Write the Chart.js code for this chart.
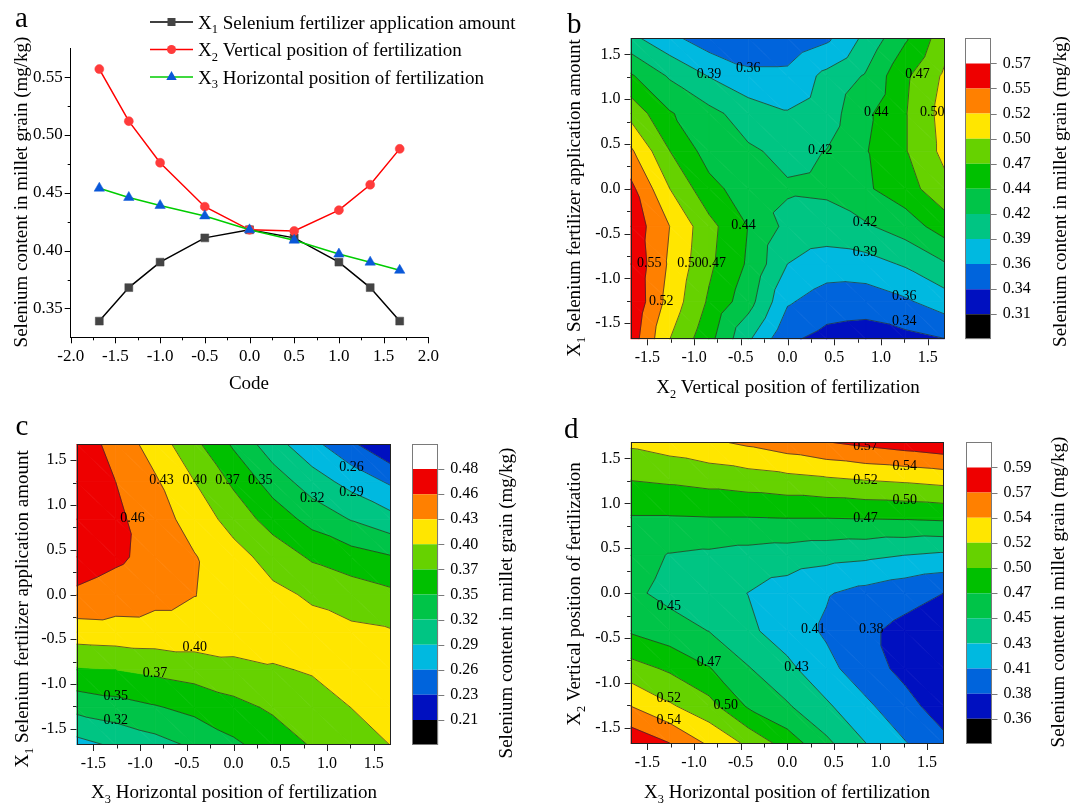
<!DOCTYPE html>
<html>
<head>
<meta charset="utf-8">
<script src="https://cdn.jsdelivr.net/npm/chart.js@4.4.1/dist/chart.umd.min.js"></script>
<style>
  html, body { margin: 0; padding: 0; background: #fff; }
  #page { position: relative; width: 1073px; height: 803px; overflow: hidden; background: #fff; }
  canvas { position: absolute; }
</style>
</head>
<body>
<div id="page">
  <canvas id="chartA" width="540" height="400" style="left:0px;top:0px"></canvas>
  <canvas id="chartB" width="415" height="400" style="left:540px;top:0px"></canvas>
  <canvas id="barB" width="118" height="400" style="left:955px;top:0px"></canvas>
  <canvas id="chartC" width="405" height="403" style="left:0px;top:400px"></canvas>
  <canvas id="barC" width="120" height="403" style="left:405px;top:400px"></canvas>
  <canvas id="chartD" width="415" height="403" style="left:540px;top:400px"></canvas>
  <canvas id="barD" width="118" height="403" style="left:955px;top:400px"></canvas>
</div>
<script>
// ---- panel a: single factor effects ----
const codeA = [-1.68, -1.35, -1, -0.5, 0, 0.5, 1, 1.35, 1.68];
const seX1 = [0.339, 0.368, 0.390, 0.411, 0.418, 0.411, 0.390, 0.368, 0.339];
const seX2 = [0.557, 0.512, 0.476, 0.438, 0.418, 0.417, 0.435, 0.457, 0.488];
const seX3 = [0.454, 0.446, 0.439, 0.430, 0.418, 0.409, 0.397, 0.390, 0.383];
const ticksAx = [-2, -1.5, -1, -0.5, 0, 0.5, 1, 1.5, 2];
const minorAx = [-1.75, -1.25, -0.75, -0.25, 0.25, 0.75, 1.25, 1.75];
const ticksAy = [0.35, 0.40, 0.45, 0.50, 0.55];
const minorAy = [0.375, 0.425, 0.475, 0.525];

// ---- contour panels: grid codes ----
const gridCodes = [-1.68, -1.26, -0.84, -0.42, 0, 0.42, 0.84, 1.26, 1.68];
const gridRowCodes = [1.68, 1.26, 0.84, 0.42, 0, -0.42, -0.84, -1.26, -1.68];
const contourTicks = [-1.5, -1, -0.5, 0, 0.5, 1, 1.5];
const contourMinor = [-1.25, -0.75, -0.25, 0.25, 0.75, 1.25];

// b: X2 (columns) vs X1 (rows, top = 1.68)
const surfB = [
  [0.398, 0.372, 0.350, 0.343, 0.345, 0.360, 0.398, 0.440, 0.485],
  [0.447, 0.414, 0.390, 0.372, 0.372, 0.398, 0.420, 0.465, 0.500],
  [0.488, 0.446, 0.425, 0.405, 0.393, 0.405, 0.438, 0.468, 0.506],
  [0.527, 0.470, 0.432, 0.421, 0.411, 0.418, 0.442, 0.468, 0.503],
  [0.556, 0.496, 0.452, 0.430, 0.420, 0.422, 0.440, 0.458, 0.488],
  [0.566, 0.522, 0.478, 0.443, 0.410, 0.406, 0.414, 0.430, 0.456],
  [0.570, 0.518, 0.475, 0.440, 0.391, 0.378, 0.381, 0.394, 0.415],
  [0.571, 0.512, 0.466, 0.428, 0.368, 0.352, 0.350, 0.361, 0.378],
  [0.563, 0.496, 0.452, 0.395, 0.343, 0.330, 0.326, 0.331, 0.338]
];
const levelsB = [0.3125, 0.3387, 0.3649, 0.3911, 0.4173, 0.4435, 0.4697, 0.4959, 0.5221, 0.5483, 0.5745];
const levelLabelsB = ['0.31', '0.34', '0.36', '0.39', '0.42', '0.44', '0.47', '0.50', '0.52', '0.55', '0.57'];
const marksB = [
  {x: -0.84, y: 1.28, t: '0.39'}, {x: -0.42, y: 1.345, t: '0.36'}, {x: 1.39, y: 1.28, t: '0.47'},
  {x: 0.95, y: 0.85, t: '0.44'}, {x: 1.55, y: 0.85, t: '0.50'}, {x: 0.35, y: 0.43, t: '0.42'},
  {x: -0.47, y: -0.41, t: '0.44'}, {x: 0.83, y: -0.37, t: '0.42'}, {x: 0.83, y: -0.71, t: '0.39'},
  {x: -1.48, y: -0.83, t: '0.55'}, {x: -1.05, y: -0.83, t: '0.50'}, {x: -0.79, y: -0.83, t: '0.47'},
  {x: -1.35, y: -1.26, t: '0.52'}, {x: 1.25, y: -1.2, t: '0.36'}, {x: 1.25, y: -1.48, t: '0.34'}
];

// c: X3 (columns) vs X1 (rows)
const surfC = [
  [0.473, 0.446, 0.416, 0.380, 0.341, 0.301, 0.270, 0.239, 0.208],
  [0.478, 0.456, 0.432, 0.401, 0.368, 0.333, 0.303, 0.280, 0.258],
  [0.478, 0.462, 0.441, 0.417, 0.390, 0.361, 0.336, 0.316, 0.299],
  [0.470, 0.461, 0.447, 0.430, 0.411, 0.390, 0.369, 0.357, 0.347],
  [0.452, 0.444, 0.436, 0.429, 0.418, 0.407, 0.397, 0.388, 0.379],
  [0.415, 0.417, 0.418, 0.418, 0.417, 0.414, 0.410, 0.406, 0.403],
  [0.370, 0.373, 0.379, 0.385, 0.392, 0.398, 0.403, 0.407, 0.410],
  [0.326, 0.334, 0.343, 0.353, 0.365, 0.377, 0.389, 0.401, 0.408],
  [0.280, 0.294, 0.307, 0.322, 0.340, 0.358, 0.375, 0.388, 0.401]
];
const levelsC = [0.2068, 0.2345, 0.2622, 0.2899, 0.3176, 0.3453, 0.3730, 0.4007, 0.4284, 0.4561, 0.4838];
const levelLabelsC = ['0.21', '0.23', '0.26', '0.29', '0.32', '0.35', '0.37', '0.40', '0.43', '0.46', '0.48'];
const marksC = [
  {x: -0.77, y: 1.275, t: '0.43'}, {x: -0.415, y: 1.275, t: '0.40'}, {x: -0.065, y: 1.275, t: '0.37'},
  {x: 0.285, y: 1.275, t: '0.35'}, {x: 0.84, y: 1.07, t: '0.32'}, {x: 1.26, y: 1.145, t: '0.29'},
  {x: 1.26, y: 1.42, t: '0.26'}, {x: -1.08, y: 0.85, t: '0.46'}, {x: -0.415, y: -0.585, t: '0.40'},
  {x: -0.84, y: -0.875, t: '0.37'}, {x: -1.26, y: -1.135, t: '0.35'}, {x: -1.26, y: -1.41, t: '0.32'}
];

// d: X3 (columns) vs X2 (rows)
const surfD = [
  [0.525, 0.532, 0.540, 0.548, 0.557, 0.566, 0.573, 0.579, 0.585],
  [0.498, 0.501, 0.505, 0.509, 0.513, 0.517, 0.521, 0.524, 0.528],
  [0.473, 0.473, 0.474, 0.474, 0.475, 0.475, 0.476, 0.477, 0.479],
  [0.462, 0.450, 0.447, 0.443, 0.440, 0.436, 0.433, 0.428, 0.424],
  [0.456, 0.445, 0.437, 0.428, 0.418, 0.407, 0.398, 0.390, 0.382],
  [0.472, 0.461, 0.451, 0.433, 0.417, 0.402, 0.386, 0.376, 0.368],
  [0.507, 0.494, 0.476, 0.453, 0.434, 0.412, 0.392, 0.376, 0.364],
  [0.544, 0.524, 0.506, 0.472, 0.454, 0.432, 0.410, 0.390, 0.371],
  [0.586, 0.568, 0.541, 0.517, 0.488, 0.457, 0.429, 0.407, 0.388]
];
const levelsD = [0.3590, 0.3821, 0.4052, 0.4283, 0.4514, 0.4745, 0.4976, 0.5207, 0.5438, 0.5669, 0.5900];
const levelLabelsD = ['0.36', '0.38', '0.41', '0.43', '0.45', '0.47', '0.50', '0.52', '0.54', '0.57', '0.59'];
const marksD = [
  {x: 0.84, y: 1.63, t: '0.57'}, {x: 1.26, y: 1.415, t: '0.54'}, {x: 0.84, y: 1.26, t: '0.52'},
  {x: 1.26, y: 1.03, t: '0.50'}, {x: 0.84, y: 0.835, t: '0.47'}, {x: -1.27, y: -0.15, t: '0.45'},
  {x: 0.28, y: -0.4, t: '0.41'}, {x: 0.9, y: -0.4, t: '0.38'}, {x: -0.84, y: -0.775, t: '0.47'},
  {x: 0.1, y: -0.825, t: '0.43'}, {x: -1.27, y: -1.17, t: '0.52'}, {x: -0.66, y: -1.245, t: '0.50'},
  {x: -1.27, y: -1.42, t: '0.54'}
];

// colour bands, lowest first
const bandColors = ['#000000', '#0010c0', '#0064dc', '#00b9e0', '#00c583', '#00c448', '#00c000',
                    '#66d200', '#ffe600', '#ff8000', '#ee0000', '#ffffff'];

const FONT = "'Liberation Serif', 'Times New Roman', serif";
Chart.defaults.font.family = FONT;
Chart.defaults.color = '#000';

const titleSe = [{t: 'Selenium content in millet grain (mg/kg)'}];
const titleX1 = [{t: 'X'}, {t: '1', sub: true}, {t: ' Selenium fertilizer application amount'}];
const titleX2 = [{t: 'X'}, {t: '2', sub: true}, {t: ' Vertical position of fertilization'}];
const titleX3 = [{t: 'X'}, {t: '3', sub: true}, {t: ' Horizontal position of fertilization'}];

// text with subscripts, centred on (x, y)
function richText(ctx, parts, x, y, size, rot) {
    ctx.save();
    ctx.translate(x, y);
    ctx.rotate(rot || 0);
    ctx.fillStyle = '#000';
    ctx.textAlign = 'left';
    ctx.textBaseline = 'alphabetic';
    let w = 0;
    parts.forEach(p => {
        ctx.font = (p.sub ? size * 0.65 : size) + 'px ' + FONT;
        w += ctx.measureText(p.t).width;
    });
    let cx = -w / 2;
    parts.forEach(p => {
        ctx.font = (p.sub ? size * 0.65 : size) + 'px ' + FONT;
        ctx.fillText(p.t, cx, size * 0.33 + (p.sub ? size * 0.25 : 0));
        cx += ctx.measureText(p.t).width;
    });
    ctx.restore();
}

function letter(ctx, t, x, y) {
    ctx.save();
    ctx.font = '29px ' + FONT;
    ctx.fillStyle = '#000';
    ctx.textBaseline = 'alphabetic';
    ctx.fillText(t, x, y);
    ctx.restore();
}

function tickMarks(ctx, chart, xs, ys, len) {
    const a = chart.chartArea;
    ctx.beginPath();
    xs.forEach(v => {
        const px = Math.round(chart.scales.x.getPixelForValue(v)) + 0.5;
        ctx.moveTo(px, a.bottom);
        ctx.lineTo(px, a.bottom + len);
    });
    ys.forEach(v => {
        const py = Math.round(chart.scales.y.getPixelForValue(v)) + 0.5;
        ctx.moveTo(a.left, py);
        ctx.lineTo(a.left - len, py);
    });
    ctx.stroke();
}

// ---------- panel a ----------
const seriesA = [
    {name: '1', text: ' Selenium fertilizer application amount', values: seX1, line: '#000000', fill: '#444444', style: 'rect', r: 5.6},
    {name: '2', text: ' Vertical position of fertilization', values: seX2, line: '#ff0000', fill: '#ff3b3b', style: 'circle', r: 4.5},
    {name: '3', text: ' Horizontal position of fertilization', values: seX3, line: '#00cc00', fill: '#0a58d8', style: 'triangle', r: 6}
];

function marker(ctx, style, x, y, color) {
    ctx.fillStyle = color;
    ctx.beginPath();
    if (style === 'rect') ctx.rect(x - 4, y - 4, 8, 8);
    else if (style === 'circle') ctx.arc(x, y, 4.5, 0, Math.PI * 2);
    else { ctx.moveTo(x, y - 6); ctx.lineTo(x + 5.2, y + 3); ctx.lineTo(x - 5.2, y + 3); ctx.closePath(); }
    ctx.fill();
}

const panelAPlugin = {
    id: 'panelA',
    afterDraw(chart) {
        const ctx = chart.ctx;
        ctx.save();
        ctx.strokeStyle = '#000';
        ctx.lineWidth = 1;
        tickMarks(ctx, chart, ticksAx, ticksAy, 6);
        tickMarks(ctx, chart, minorAx, minorAy, 3);
        // legend
        seriesA.forEach((s, i) => {
            const y = 22 + i * 27.5;
            ctx.strokeStyle = s.line;
            ctx.lineWidth = 1.5;
            ctx.beginPath();
            ctx.moveTo(150, y);
            ctx.lineTo(193, y);
            ctx.stroke();
            marker(ctx, s.style, 171.5, y, s.fill);
            ctx.fillStyle = '#000';
            ctx.font = '19px ' + FONT;
            ctx.fillText('X', 198, y + 6.5);
            const wx = ctx.measureText('X').width;
            ctx.font = '12.5px ' + FONT;
            ctx.fillText(s.name, 198 + wx, y + 11);
            const w1 = ctx.measureText(s.name).width;
            ctx.font = '19px ' + FONT;
            ctx.fillText(s.text, 198 + wx + w1, y + 6.5);
        });
        richText(ctx, titleSe, 20.5, 192, 19, -Math.PI / 2);
        richText(ctx, [{t: 'Code'}], 249, 383, 19, 0);
        letter(ctx, 'a', 15, 27);
        ctx.restore();
    }
};

new Chart(document.getElementById('chartA'), {
    type: 'line',
    data: {
        datasets: seriesA.map((s, i) => ({
            label: 'X' + s.name,
            data: codeA.map((c, k) => ({x: c, y: s.values[k]})),
            borderColor: s.line,
            borderWidth: 1.5,
            pointStyle: s.style,
            pointRadius: s.r,
            pointBackgroundColor: s.fill,
            pointBorderColor: s.fill,
            pointBorderWidth: 0.5,
            tension: 0,
            order: 2 - i
        }))
    },
    options: {
        responsive: false,
        animation: false,
        layout: { padding: { left: 0, top: 48.3, right: 111.7, bottom: 0 } },
        plugins: { legend: { display: false }, tooltip: { enabled: false } },
        scales: {
            x: {
                type: 'linear', min: -2, max: 2,
                afterBuildTicks: s => { s.ticks = ticksAx.map(v => ({value: v})); },
                afterFit: s => { s.height = 62.7; },
                ticks: { callback: v => v.toFixed(1), font: { size: 17 }, padding: 9, maxRotation: 0, autoSkip: false },
                grid: { display: false, drawTicks: false },
                border: { display: true, color: '#000', width: 1 }
            },
            y: {
                type: 'linear', min: 0.325, max: 0.575,
                afterBuildTicks: s => { s.ticks = ticksAy.map(v => ({value: v})); },
                afterFit: s => { s.width = 70.7; },
                ticks: { callback: v => v.toFixed(2), font: { size: 17 }, padding: 8 },
                grid: { display: false, drawTicks: false },
                border: { display: true, color: '#000', width: 1 }
            }
        }
    },
    plugins: [panelAPlugin]
});

// ---------- contour panels ----------
function clipPoly(poly, lim, dir) {
    if (lim === null) return poly;
    const out = [];
    for (let n = 0; n < poly.length; n++) {
        const p = poly[n], q = poly[(n + 1) % poly.length];
        const ip = dir * (p.v - lim) >= 0, iq = dir * (q.v - lim) >= 0;
        if (ip) out.push(p);
        if (ip !== iq) {
            const f = (lim - p.v) / (q.v - p.v);
            out.push({x: p.x + f * (q.x - p.x), y: p.y + f * (q.y - p.y), v: lim});
        }
    }
    return out;
}

const contourPlugin = {
    id: 'contour',
    beforeDatasetsDraw(chart, args, o) {
        const ctx = chart.ctx, a = chart.chartArea, sx = chart.scales.x, sy = chart.scales.y;
        const pt = (r, c) => ({x: sx.getPixelForValue(gridCodes[c]), y: sy.getPixelForValue(gridRowCodes[r]), v: o.surface[r][c]});
        const tris = [];
        for (let r = 0; r < gridRowCodes.length - 1; r++) {
            for (let c = 0; c < gridCodes.length - 1; c++) {
                const p1 = pt(r, c), p2 = pt(r, c + 1), p3 = pt(r + 1, c + 1), p4 = pt(r + 1, c);
                tris.push([p1, p2, p3], [p1, p3, p4]);
            }
        }
        ctx.save();
        ctx.beginPath();
        ctx.rect(a.left, a.top, a.width, a.height);
        ctx.clip();
        ctx.lineJoin = 'round';
        tris.forEach(t => {
            for (let k = 0; k <= o.levels.length; k++) {
                let poly = clipPoly(t, k > 0 ? o.levels[k - 1] : null, 1);
                poly = clipPoly(poly, k < o.levels.length ? o.levels[k] : null, -1);
                if (poly.length < 3) continue;
                ctx.beginPath();
                poly.forEach((p, n) => n ? ctx.lineTo(p.x, p.y) : ctx.moveTo(p.x, p.y));
                ctx.closePath();
                ctx.fillStyle = ctx.strokeStyle = bandColors[k];
                ctx.lineWidth = 0.8;
                ctx.fill();
                ctx.stroke();
            }
        });
        // contour lines
        ctx.strokeStyle = '#2b2b2b';
        ctx.lineWidth = 0.7;
        ctx.beginPath();
        tris.forEach(t => {
            o.levels.forEach(L => {
                const pts = [];
                for (let n = 0; n < 3; n++) {
                    const p = t[n], q = t[(n + 1) % 3];
                    if ((p.v - L) * (q.v - L) < 0) {
                        const f = (L - p.v) / (q.v - p.v);
                        pts.push([p.x + f * (q.x - p.x), p.y + f * (q.y - p.y)]);
                    }
                }
                if (pts.length === 2) {
                    ctx.moveTo(pts[0][0], pts[0][1]);
                    ctx.lineTo(pts[1][0], pts[1][1]);
                }
            });
        });
        ctx.stroke();
        // level labels
        ctx.fillStyle = '#000';
        ctx.font = '14px ' + FONT;
        ctx.textAlign = 'center';
        ctx.textBaseline = 'middle';
        o.marks.forEach(m => ctx.fillText(m.t, sx.getPixelForValue(m.x), sy.getPixelForValue(m.y)));
        ctx.restore();
    },
    afterDraw(chart, args, o) {
        const ctx = chart.ctx, a = chart.chartArea;
        ctx.save();
        ctx.strokeStyle = '#222';
        ctx.lineWidth = 1;
        ctx.strokeRect(Math.round(a.left) + 0.5, Math.round(a.top) + 0.5, Math.round(a.width) - 1, Math.round(a.height) - 1);
        tickMarks(ctx, chart, contourTicks, contourTicks, 6);
        tickMarks(ctx, chart, contourMinor, contourMinor, 3.5);
        richText(ctx, o.xTitle, o.xt[0], o.xt[1], 19, 0);
        richText(ctx, o.yTitle, o.yt[0], o.yt[1], 19, -Math.PI / 2);
        letter(ctx, o.letter, o.lt[0], o.lt[1]);
        ctx.restore();
    }
};

function contourChart(id, o) {
    return new Chart(document.getElementById(id), {
        type: 'scatter',
        data: { datasets: [{ data: [], pointRadius: 0 }] },
        options: {
            responsive: false,
            animation: false,
            layout: { padding: { left: 0, top: o.top, right: o.right, bottom: 0 } },
            plugins: { legend: { display: false }, tooltip: { enabled: false }, contour: o },
            scales: {
                x: {
                    type: 'linear', min: -1.68, max: 1.68,
                    afterBuildTicks: s => { s.ticks = contourTicks.map(v => ({value: v})); },
                    afterFit: s => { s.height = o.xAxisH; },
                    ticks: { callback: v => v.toFixed(1), font: { size: 16 }, padding: 9, maxRotation: 0, autoSkip: false },
                    grid: { display: false, drawTicks: false },
                    border: { display: false }
                },
                y: {
                    type: 'linear', min: -1.68, max: 1.68,
                    afterBuildTicks: s => { s.ticks = contourTicks.map(v => ({value: v})); },
                    afterFit: s => { s.width = o.yAxisW; },
                    ticks: { callback: v => v.toFixed(1), font: { size: 16 }, padding: 10, autoSkip: false },
                    grid: { display: false, drawTicks: false },
                    border: { display: false }
                }
            }
        },
        plugins: [contourPlugin]
    });
}

const cbarPlugin = {
    id: 'cbar',
    afterDraw(chart, args, o) {
        const ctx = chart.ctx, a = chart.chartArea, sy = chart.scales.y;
        ctx.save();
        ctx.strokeStyle = '#7a7a7a';
        ctx.lineWidth = 1;
        ctx.strokeRect(Math.round(a.left) + 0.5, Math.round(a.top) + 0.5, Math.round(a.width) - 1, Math.round(a.height) - 1);
        ctx.beginPath();
        o.labels.forEach((l, i) => {
            const py = Math.round(sy.getPixelForValue(i + 1)) + 0.5;
            ctx.moveTo(a.right, py);
            ctx.lineTo(a.right + 6, py);
        });
        ctx.stroke();
        richText(ctx, titleSe, o.tx, o.ty, 19, -Math.PI / 2);
        ctx.restore();
    }
};

function colorBar(id, o) {
    return new Chart(document.getElementById(id), {
        type: 'bar',
        data: {
            labels: [''],
            datasets: bandColors.map(c => ({
                data: [1], backgroundColor: c, borderWidth: 0,
                barPercentage: 1, categoryPercentage: 1, inflateAmount: 0
            }))
        },
        options: {
            responsive: false,
            animation: false,
            layout: { padding: { left: o.left, top: o.top, right: 0, bottom: o.bottom } },
            plugins: { legend: { display: false }, tooltip: { enabled: false }, cbar: o },
            scales: {
                x: { display: false, stacked: true },
                y: {
                    stacked: true, position: 'right', min: 0, max: 12,
                    afterBuildTicks: s => { s.ticks = o.labels.map((l, i) => ({value: i + 1})); },
                    afterFit: s => { s.width = o.axisW; },
                    ticks: { callback: v => o.labels[v - 1], font: { size: 16 }, padding: 12 },
                    grid: { display: false, drawTicks: false },
                    border: { display: false }
                }
            }
        },
        plugins: [cbarPlugin]
    });
}

contourChart('chartB', {
    surface: surfB, levels: levelsB, marks: marksB,
    top: 38.3, right: 10.5, xAxisH: 60.7, yAxisW: 90.5,
    xTitle: titleX2, xt: [248, 387], yTitle: titleX1, yt: [34, 198],
    letter: 'b', lt: [27, 33]
});
colorBar('barB', { labels: levelLabelsB, left: 10, top: 38.3, bottom: 60.7, axisW: 82.3, tx: 105, ty: 191.5 });

contourChart('chartC', {
    surface: surfC, levels: levelsC, marks: marksC,
    top: 44, right: 14.3, xAxisH: 58, yAxisW: 76.5,
    xTitle: titleX3, xt: [234, 392], yTitle: titleX1, yt: [21.5, 209],
    letter: 'c', lt: [15.5, 35]
});
colorBar('barC', { labels: levelLabelsC, left: 7.3, top: 44, bottom: 58, axisW: 86.7, tx: 101, ty: 203 });

contourChart('chartD', {
    surface: surfD, levels: levelsD, marks: marksD,
    top: 42.3, right: 11.1, xAxisH: 59, yAxisW: 90.6,
    xTitle: titleX3, xt: [247, 391.5], yTitle: titleX2, yt: [34, 194],
    letter: 'd', lt: [24, 38]
});
colorBar('barD', { labels: levelLabelsD, left: 11, top: 42.3, bottom: 59, axisW: 81.5, tx: 103, ty: 192 });
</script>
</body>
</html>
